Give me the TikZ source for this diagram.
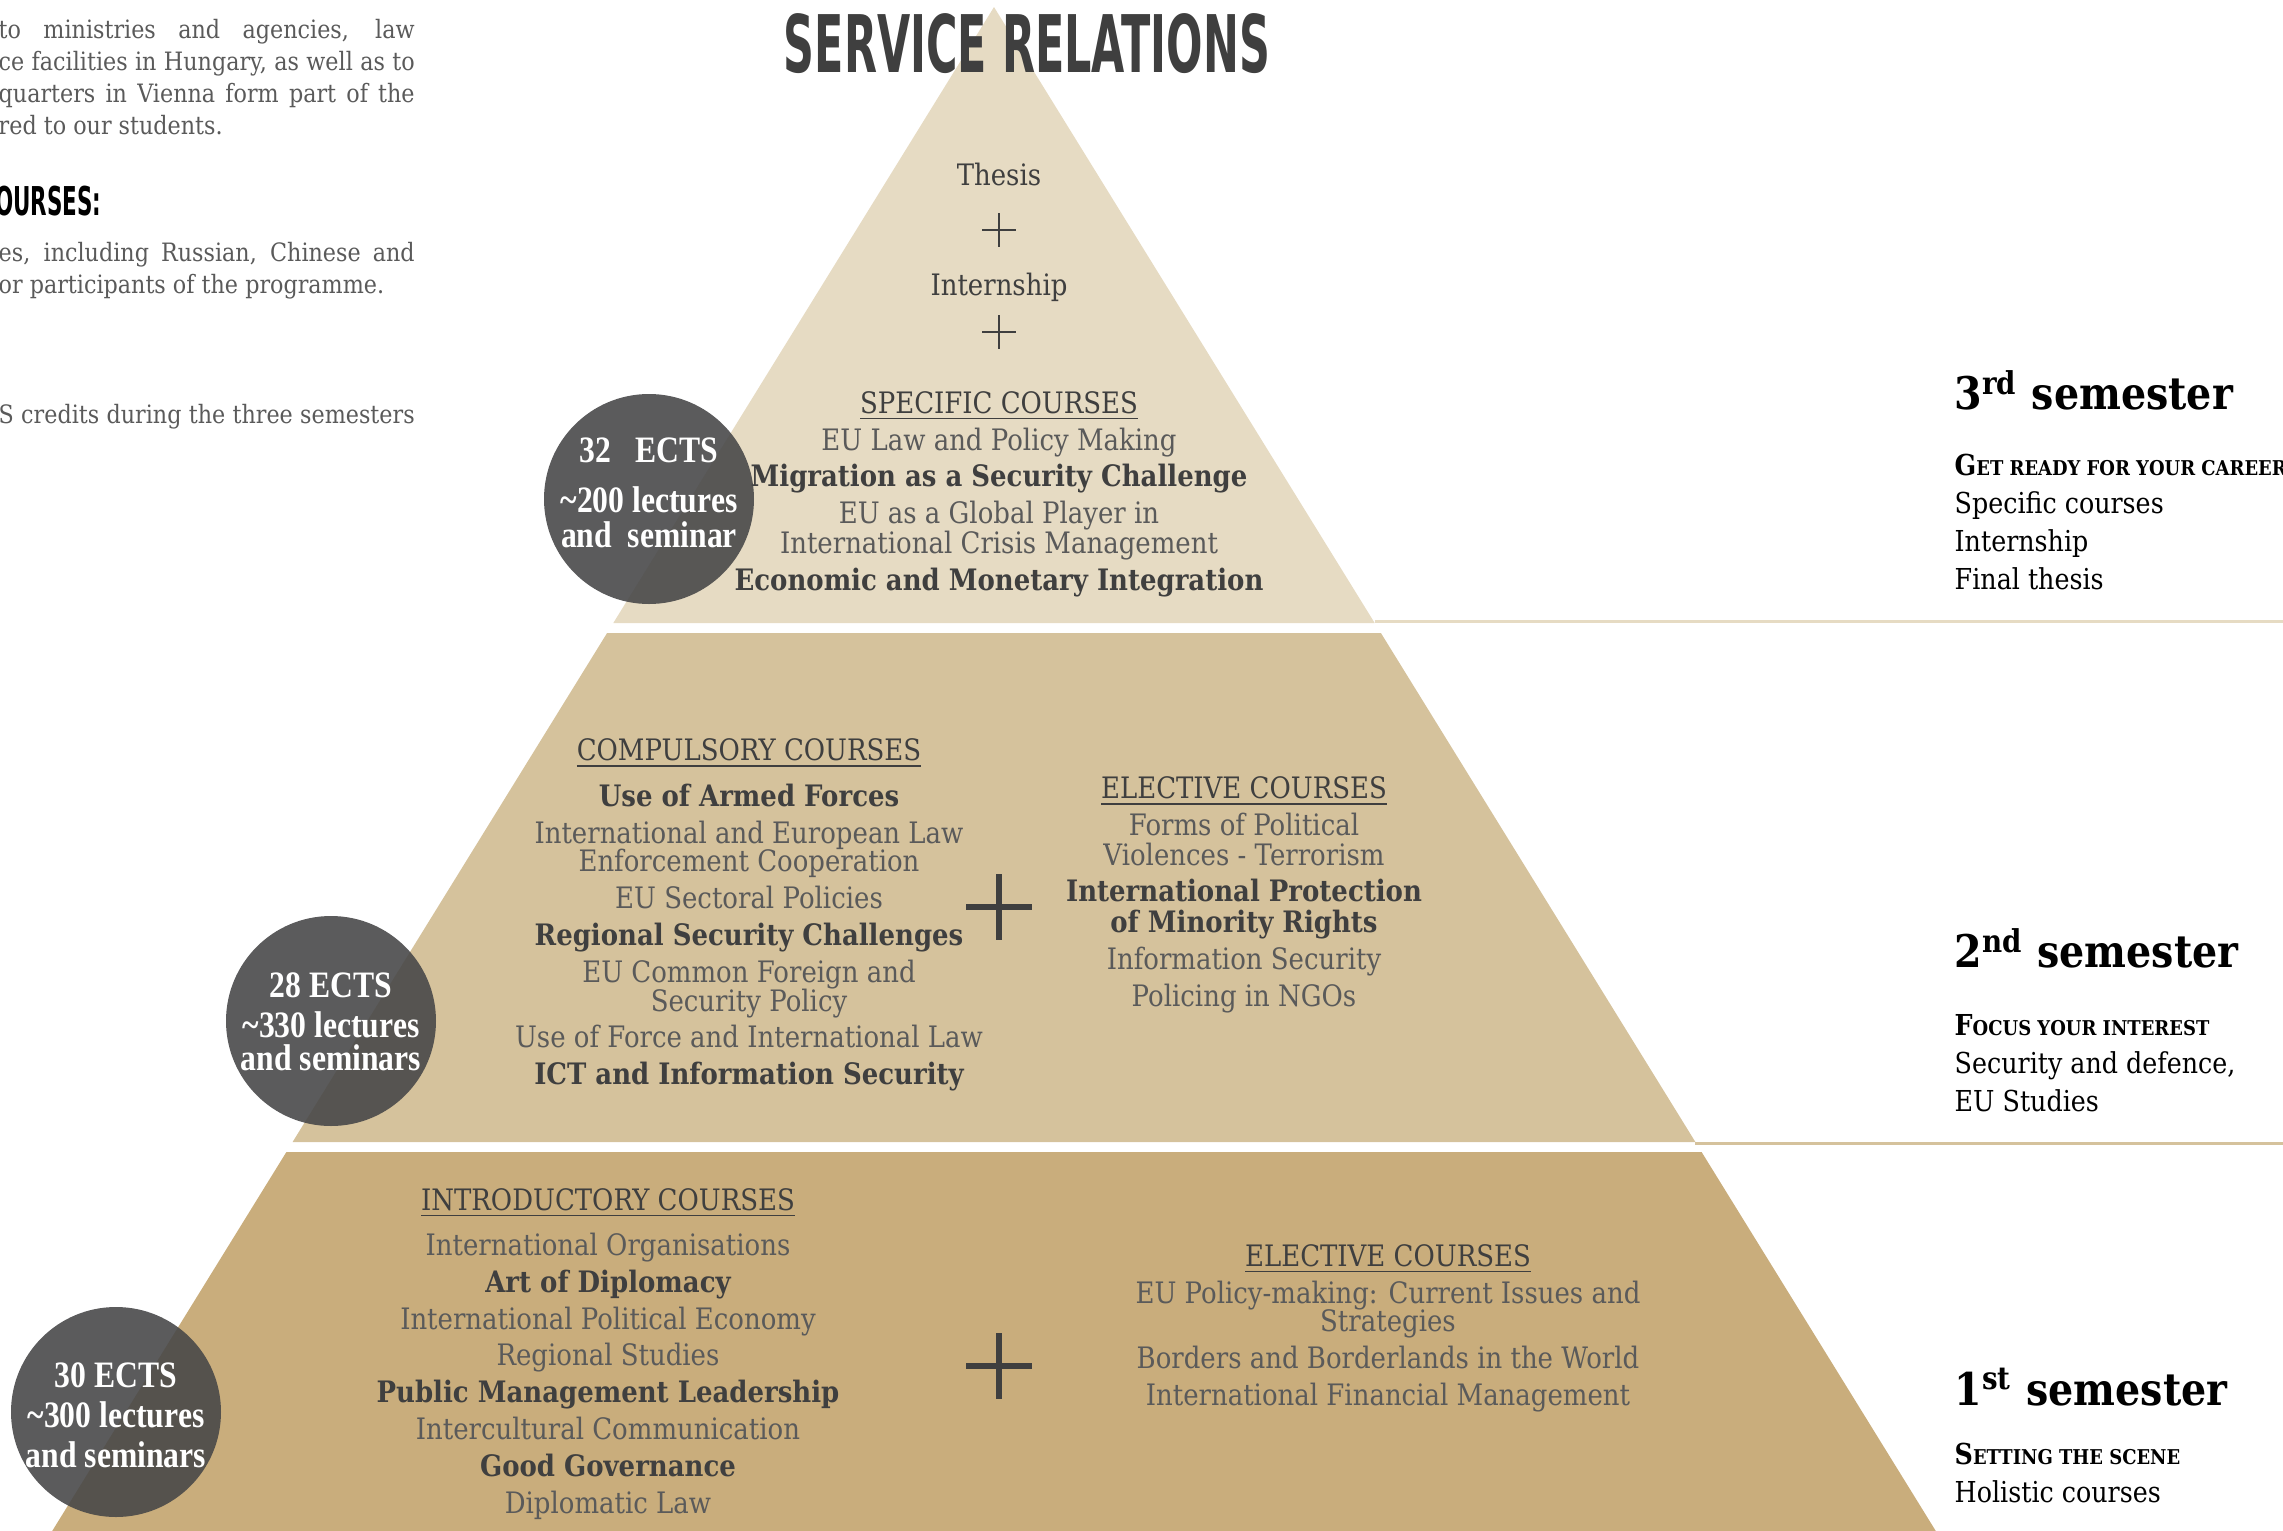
\documentclass[tikz,border=0pt]{standalone}
\usepackage{fontspec}
\usepackage{graphicx}
\setmainfont{DejaVu Serif}[FakeStretch=0.88]
\newfontfamily\ectsfont{Liberation Serif}[FakeStretch=0.85]
\newfontfamily\posterfont{DejaVu Sans}[FakeStretch=0.54]

\definecolor{bandtop}{HTML}{E6DBC3}
\definecolor{bandmid}{HTML}{D5C29C}
\definecolor{bandlow}{HTML}{C9AD7C}
\definecolor{ink}{HTML}{3F3F3F}
\definecolor{softink}{HTML}{5A5A5A}
\definecolor{badge}{HTML}{474748}

\newcommand{\hi}[1]{{\color{ink}\bfseries #1}}
\newcommand{\hd}[1]{{\color{ink}\underline{#1}}}
\newcommand{\fakesc}[2]{{\bfseries\fontsize{8.2}{10}\selectfont #1\fontsize{5.8}{10}\selectfont #2}}

\begin{document}
\begin{tikzpicture}[x=0.1mm, y=-0.1mm]
  \tikzstyle{course}=[inner sep=0, align=center, text=softink, font=\fontsize{8.4}{10.5}\selectfont]
  \tikzstyle{badge}=[circle, minimum size=21mm, inner sep=0, fill=badge, fill opacity=0.89]
  \tikzstyle{ects}=[inner sep=0, text=white, align=center, font=\ectsfont\bfseries\fontsize{10.6}{11.4}\selectfont]
  \tikzstyle{semester}=[anchor=west, inner sep=0, font=\bfseries\fontsize{12.8}{15}\selectfont]
  \tikzstyle{goal}=[anchor=west, inner sep=0, align=left, font=\fontsize{8.2}{10.8}\selectfont]
  \tikzstyle{intro}=[anchor=west, inner sep=0, align=left, text=softink, font=\fontsize{7.2}{9.1}\selectfont]
  \tikzstyle{thin plus}=[ink, line width=0.25mm]
  \tikzstyle{thick plus}=[ink, line width=0.6mm]
  \useasboundingbox (0,0) rectangle (2283,1531);
  \clip (0,0) rectangle (2283,1531);
  % pyramid bands
  \fill[bandtop] (994,7) -- (1374.7,623) -- (613.3,623) -- cycle;
  \fill[bandmid] (607.1,633) -- (1380.9,633) -- (1695.4,1142) -- (292.6,1142) -- cycle;
  \fill[bandlow] (286.4,1152) -- (1701.6,1152) -- (1935.8,1531) -- (52.2,1531) -- cycle;
  \draw[bandtop, line width=0.3mm] (1374.7,621.5) -- (2283,621.5);
  \draw[bandmid, line width=0.3mm] (1695.4,1143) -- (2283,1143);

  \node[text=ink, inner sep=0, font=\posterfont\bfseries\fontsize{22.6}{24}\selectfont] (title) at (1027,44) {SERVICE RELATIONS};

  % 3rd semester
  \node[course, text=ink] (thesis) at (999,174) {Thesis};
  \draw[thin plus] (999,230) +(-17,0) -- +(17,0) +(0,-17) -- +(0,17);
  \node[course, text=ink] (internship) at (999,287) {Internship};
  \draw[thin plus] (999,332) +(-17,0) -- +(17,0) +(0,-17) -- +(0,17);
  \node[course] (specific) at (999,494) {\hd{SPECIFIC COURSES}\\ EU Law and Policy Making\\ \hi{Migration as a Security Challenge}\\ EU as a Global Player in\\[-2.1pt] International Crisis Management\\ \hi{Economic and Monetary Integration}};
  \node[badge] (ects3) at (649,499) {};
  \node[ects] (ects3 text) at (649,493) {32\ \ \ ECTS\\[2.8pt]\textasciitilde200 lectures\\[-1.4pt]and\ \ seminar};

  % 2nd semester
  \node[course] (compulsory) at (749,915) {\hd{COMPULSORY COURSES}\\[2.6pt] \hi{Use of Armed Forces}\\ International and European Law\\[-2.5pt] Enforcement Cooperation\\ EU Sectoral Policies\\ \hi{Regional Security Challenges}\\ EU Common Foreign and\\[-2.3pt] Security Policy\\ Use of Force and International Law\\ \hi{ICT and Information Security}};
  \draw[thick plus] (999,907) +(-33,0) -- +(33,0) +(0,-33) -- +(0,33);
  \node[course] (elective2) at (1244,895) {\hd{ELECTIVE COURSES}\\ Forms of Political\\[-2.1pt] Violences - Terrorism\\ \hi{International Protection}\\[-1.7pt] \hi{of Minority Rights}\\ Information Security\\ Policing in NGOs};
  \node[badge] (ects2) at (331,1021) {};
  \node[ects] (ects2 text) at (331,1022) {28 ECTS\\\textasciitilde330 lectures\\[-1.9pt]and seminars};

  % 1st semester
  \node[course] (introductory) at (608,1354) {\hd{INTRODUCTORY COURSES}\\[2.3pt] International Organisations\\ \hi{Art of Diplomacy}\\ International Political Economy\\ Regional Studies\\ \hi{Public Management Leadership}\\ Intercultural Communication\\ \hi{Good Governance}\\ Diplomatic Law};
  \draw[thick plus] (999,1366) +(-33,0) -- +(33,0) +(0,-33) -- +(0,33);
  \node[course] (elective1) at (1388,1328) {\hd{ELECTIVE COURSES}\\ EU Policy-making: Current Issues and\\[-2.4pt] Strategies\\ Borders and Borderlands in the World\\ International Financial Management};
  \node[badge] (ects1) at (116,1412) {};
  \node[ects] (ects1 text) at (116,1415) {30 ECTS\\\textasciitilde300 lectures\\and seminars};

  % semester labels
  \node[semester] (sem3) at (1954,390) {3\textsuperscript{rd} semester};
  \node[goal] (goal3) at (1954,522) {\fakesc{G}{ET READY FOR YOUR CAREER}\\ Specific courses\\ Internship\\ Final thesis};
  \node[semester] (sem2) at (1954,948) {2\textsuperscript{nd} semester};
  \node[goal] (goal2) at (1954,1063) {\fakesc{F}{OCUS YOUR INTEREST}\\ Security and defence,\\ EU Studies};
  \node[semester] (sem1) at (1954,1387) {1\textsuperscript{st} semester};
  \node[goal] (goal1) at (1954,1473) {\fakesc{S}{ETTING THE SCENE}\\ Holistic courses};

  % text left of the pyramid
  \node[intro] (intro1) at (-2,77) {\makebox[41.6mm][s]{to ministries and agencies, law}\\ \makebox[41.6mm][s]{ce facilities in Hungary, as well as to}\\ \makebox[41.6mm][s]{quarters in Vienna form part of the}\\ red to our students.};
  \node[anchor=east, inner sep=0, font=\posterfont\bfseries\fontsize{11.3}{12}\selectfont] (languages) at (102,201) {OURSES:};
  \node[intro] (intro2) at (-2,271) {\makebox[41.6mm][s]{es, including Russian, Chinese and}\\ or participants of the programme.};
  \node[intro] (intro3) at (-2,417) {\makebox[41.6mm][s]{S credits during the three semesters}};
\end{tikzpicture}
\end{document}
